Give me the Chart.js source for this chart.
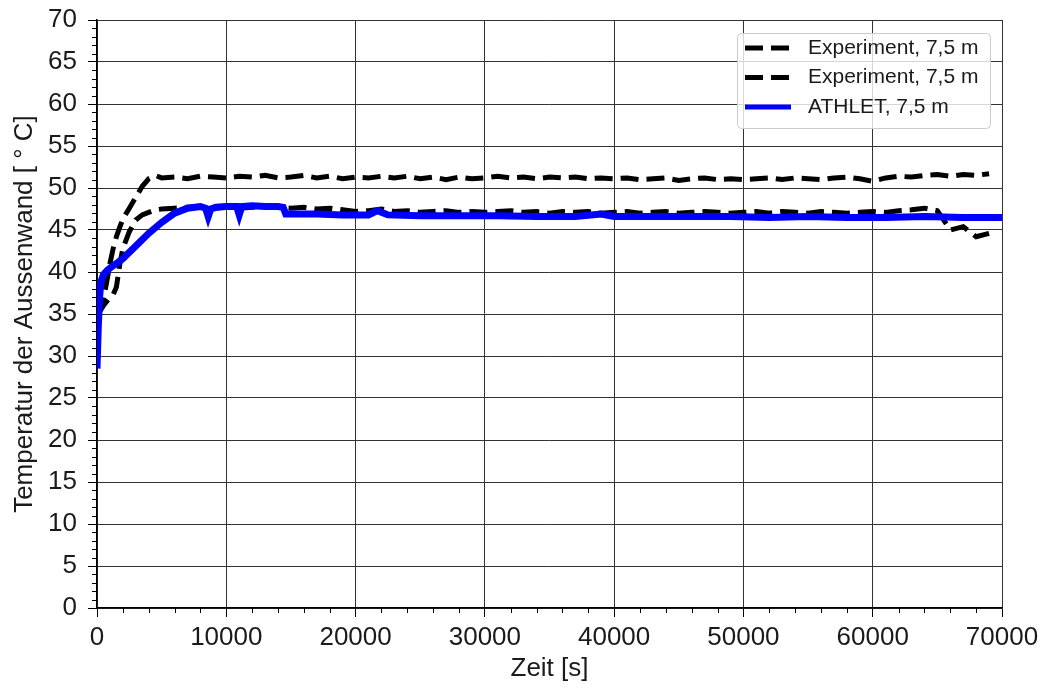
<!DOCTYPE html>
<html>
<head>
<meta charset="utf-8">
<script src="https://cdn.jsdelivr.net/npm/chart.js@4.4.0/dist/chart.umd.min.js"></script>
<style>
  body { margin: 0; background: #fff; }
</style>
</head>
<body>
<canvas id="wall-chart" width="1045" height="688"></canvas>
<script>
// Zeit [s] fuer die Messungen
var timeExp = [0, 250, 500, 750, 1000, 1250, 1500, 1750, 2000, 2500, 3000, 3500, 4000, 4500, 5000,
  6000, 7000, 8000, 9000, 10000, 11000, 12000, 13000, 14000, 15000, 16000, 17000, 18000, 19000, 20000,
  21000, 22000, 23000, 24000, 25000, 26000, 27000, 28000, 29000, 30000, 31000, 32000, 33000, 34000, 35000,
  36000, 37000, 38000, 39000, 40000, 41000, 42000, 43000, 44000, 45000, 46000, 47000, 48000, 49000, 50000,
  51000, 52000, 53000, 54000, 55000, 56000, 57000, 58000, 59000, 60000, 61000, 62000, 63000, 64000, 65000,
  66000, 67000, 68000, 69000];

// Experiment, obere Kurve
var exp1 = [35.0, 35.5, 36.8, 38.8, 41.0, 42.8, 44.2, 45.3, 46.3, 47.6, 48.9, 50.2, 51.1, 51.5, 51.2,
  51.3, 51.1, 51.4, 51.3, 51.2, 51.4, 51.3, 51.5, 51.2, 51.3, 51.5, 51.2, 51.4, 51.1, 51.3,
  51.2, 51.4, 51.2, 51.4, 51.1, 51.3, 51.0, 51.3, 51.1, 51.2, 51.4, 51.2, 51.3, 51.1, 51.3,
  51.2, 51.3, 51.1, 51.2, 51.1, 51.2, 51.0, 51.1, 51.2, 50.9, 51.1, 51.2, 51.0, 51.1, 51.0,
  51.1, 51.2, 51.0, 51.2, 51.1, 51.0, 51.2, 51.3, 51.1, 50.8, 51.2, 51.4, 51.3, 51.5, 51.6,
  51.4, 51.6, 51.5, 51.7];

// Experiment, untere Kurve
var exp2 = [35.0, 35.4, 36.0, 36.5, 37.0, 37.3, 38.2, 40.8, 42.8, 44.8, 46.2, 46.8, 47.1, 47.4, 47.5,
  47.6, 47.7, 47.8, 47.6, 47.7, 47.6, 47.7, 47.8, 47.7, 47.6, 47.7, 47.5, 47.6, 47.4, 47.2,
  47.3, 47.5, 47.2, 47.3, 47.1, 47.2, 47.3, 47.1, 47.2, 47.1, 47.2, 47.3, 47.1, 47.2, 47.0,
  47.2, 47.1, 47.2, 47.0, 47.1, 47.2, 47.0, 47.1, 47.2, 47.0, 47.1, 47.2, 47.1, 47.0, 47.1,
  47.2, 47.0, 47.2, 47.1, 47.0, 47.2, 47.1, 47.0, 47.1, 47.2, 47.1, 47.3, 47.4, 47.6, 47.3,
  45.0, 45.4, 44.2, 44.6];

// ATHLET Rechnung
var timeSim = [0, 100, 200, 300, 500, 800, 1200, 1600, 2000, 3000, 4000, 5000, 6000, 7000, 8000,
  8400, 8600, 8800, 9200, 10000, 10800, 11000, 11200, 12000, 13000, 14000, 14400, 14600, 15000,
  17000, 19000, 21000, 21700, 22500, 25000, 28000, 31000, 34000, 37000, 39000, 40000, 43000, 46000,
  49000, 52000, 55000, 58000, 61000, 64000, 67000, 70000];
var athlet = [28.5, 33.5, 37.0, 38.8, 39.7, 40.2, 40.7, 41.1, 41.6, 43.1, 44.6, 45.9, 47.0, 47.6, 47.8,
  47.6, 46.6, 47.5, 47.7, 47.8, 47.8, 46.8, 47.8, 47.9, 47.8, 47.8, 47.7, 46.9, 46.9,
  46.9, 46.8, 46.8, 47.3, 46.8, 46.7, 46.7, 46.7, 46.6, 46.6, 46.9, 46.6, 46.6, 46.6,
  46.6, 46.5, 46.6, 46.5, 46.5, 46.6, 46.5, 46.5];

var xTicks = [0, 10000, 20000, 30000, 40000, 50000, 60000, 70000];
var yTicks = [0, 5, 10, 15, 20, 25, 30, 35, 40, 45, 50, 55, 60, 65, 70];

var labelFont = 'Liberation Sans, Arial, sans-serif';

function toPoints(xs, ys) {
  return xs.map(function (x, i) { return {x: x, y: ys[i]}; });
}

// kleine Nebenstriche an den Achsen
var minorTicks = {
  id: 'minorTicks',
  afterDraw: function (chart) {
    var ctx = chart.ctx, xs = chart.scales.x, ys = chart.scales.y;
    ctx.save();
    ctx.strokeStyle = '#000';
    ctx.lineWidth = 1;
    ctx.beginPath();
    for (var v = 1; v < 70; v++) {
      if (v % 5 === 0) continue;
      var py = Math.round(ys.getPixelForValue(v)) + 0.5;
      ctx.moveTo(ys.right - 5, py); ctx.lineTo(ys.right, py);
    }
    for (var t = 2000; t < 70000; t += 2000) {
      if (t % 10000 === 0) continue;
      var px = Math.round(xs.getPixelForValue(t)) + 0.5;
      ctx.moveTo(px, xs.top); ctx.lineTo(px, xs.top + 5);
    }
    ctx.stroke();
    ctx.restore();
  }
};

// Legende oben rechts im Diagramm
var boxLegend = {
  id: 'boxLegend',
  afterDraw: function (chart) {
    var ctx = chart.ctx;
    var x = 737.5, y = 33.5, w = 253, h = 95, r = 4;
    ctx.save();
    ctx.beginPath();
    ctx.roundRect(x, y, w, h, r);
    ctx.fillStyle = 'rgba(255,255,255,0.8)';
    ctx.fill();
    ctx.strokeStyle = '#cccccc';
    ctx.lineWidth = 1;
    ctx.stroke();
    ctx.font = '21px ' + labelFont;
    ctx.textBaseline = 'middle';
    chart.data.datasets.forEach(function (ds, i) {
      var ly = 48 + i * 29.5;
      ctx.beginPath();
      ctx.setLineDash(ds.borderDash || []);
      ctx.strokeStyle = ds.borderColor;
      ctx.lineWidth = 5;
      ctx.moveTo(745, ly); ctx.lineTo(791, ly);
      ctx.stroke();
      ctx.setLineDash([]);
      ctx.fillStyle = '#1a1a1a';
      ctx.fillText(ds.label, 808, ly);
    });
    ctx.restore();
  }
};

var plainNum = function (v) { return String(v); };

var chart = new Chart(document.getElementById('wall-chart'), {
  type: 'line',
  data: {
    datasets: [
      {label: 'Experiment, 7,5 m', data: toPoints(timeExp, exp1), borderColor: '#000', borderWidth: 5, borderDash: [18, 8], order: 1},
      {label: 'Experiment, 7,5 m', data: toPoints(timeExp, exp2), borderColor: '#000', borderWidth: 5, borderDash: [18, 8], order: 1},
      {label: 'ATHLET, 7,5 m', data: toPoints(timeSim, athlet), borderColor: '#0000ff', borderWidth: 7, order: 0}
    ]
  },
  options: {
    responsive: false, animation: false,
    elements: {point: {radius: 0}, line: {tension: 0, borderCapStyle: 'butt'}},
    layout: {padding: {top: 20, right: 43, bottom: 0, left: 0}},
    plugins: {legend: {display: false}, tooltip: {enabled: false}},
    scales: {
      x: {
        type: 'linear', min: 0, max: 70000,
        afterBuildTicks: function (s) { s.ticks = xTicks.map(function (v) { return {value: v}; }); },
        afterFit: function (s) { s.height = 80; },
        grid: {color: '#333', lineWidth: 1, tickLength: 9, tickColor: '#000'},
        border: {color: '#000', width: 1.5},
        ticks: {font: {family: labelFont, size: 26}, color: '#1a1a1a', padding: 5, maxRotation: 0, callback: plainNum},
        title: {display: true, text: 'Zeit [s]', font: {family: labelFont, size: 26}, color: '#1a1a1a', padding: {top: 0, bottom: 4}}
      },
      y: {
        min: 0, max: 70,
        afterBuildTicks: function (s) { s.ticks = yTicks.map(function (v) { return {value: v}; }); },
        afterFit: function (s) { s.width = 97; s.paddingTop = 0; s.paddingBottom = 0; },
        grid: {color: '#333', lineWidth: 1, tickLength: 9, tickColor: '#000'},
        border: {color: '#000', width: 1.5},
        ticks: {font: {family: labelFont, size: 26}, color: '#1a1a1a', padding: 11, callback: plainNum},
        title: {display: true, text: 'Temperatur der Aussenwand [ ° C]', font: {family: labelFont, size: 26}, color: '#1a1a1a', padding: {top: 9, bottom: 0}}
      }
    }
  },
  plugins: [minorTicks, boxLegend]
});
</script>
</body>
</html>
